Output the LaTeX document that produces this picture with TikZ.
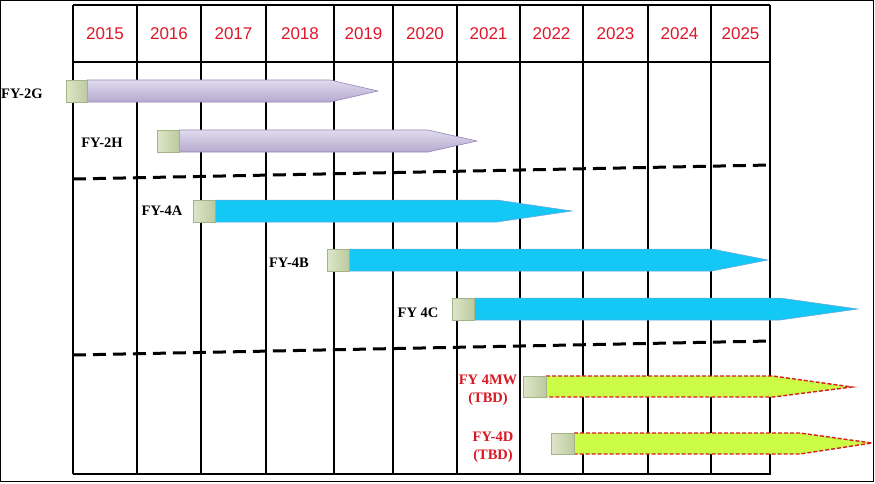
\documentclass[tikz,border=0pt]{standalone}
\usepackage{fontspec}
\setmainfont{Liberation Serif}
\newfontfamily\yearfont{Liberation Sans}
\definecolor{yearred}{RGB}{222,22,40}
\definecolor{lblred}{RGB}{215,25,35}
\definecolor{purpT}{RGB}{224,219,238}
\definecolor{purpB}{RGB}{182,170,208}
\definecolor{purpD}{RGB}{150,135,182}
\definecolor{cyanbar}{RGB}{20,200,245}
\definecolor{cyanD}{RGB}{110,160,215}
\definecolor{limebar}{RGB}{204,252,70}
\definecolor{sqL}{RGB}{222,230,200}
\definecolor{sqR}{RGB}{188,202,160}
\definecolor{sqD}{RGB}{165,178,135}
\tikzset{
  year/.style={font=\yearfont\fontsize{17}{17}\selectfont, text=yearred, inner sep=0pt},
  sat/.style={font=\bfseries\fontsize{14.5}{18}\selectfont, inner sep=0pt, align=center},
  satred/.style={sat, text=lblred},
  thingrid/.style={line width=1.1pt, black},
  thickgrid/.style={line width=2pt, black},
  epoch/.style={line width=3pt, dash pattern=on 13pt off 7pt, black},
  purplebar/.style={top color=purpT, bottom color=purpB, draw=purpD, line width=0.6pt},
  cyanbarst/.style={fill=cyanbar, draw=cyanD, line width=0.5pt},
  limebarst/.style={fill=limebar, draw=lblred, line width=1.4pt, dash pattern=on 4pt off 2pt},
  sq/.style={left color=sqL, right color=sqR, draw=sqD, line width=0.5pt}
}
\newcommand{\tlbar}[8]{%
  \path[#1] (#3,#4) -- (#6,#4) -- (#7,#8) -- (#6,#5) -- (#3,#5) -- cycle;
  \path[sq] (#2,#4) rectangle (#3,#5);
}
\begin{document}
\begin{tikzpicture}[x=1pt,y=-1pt]
\useasboundingbox (0,0) rectangle (875,483);
\draw[line width=1pt] (0.5,0.5) rectangle (873.5,481.5);
% grid
\draw[thingrid] (73,5) -- (770,5);
\draw[thingrid] (73,62) -- (770,62);
\foreach \x in {73,137,266,334,393,457,583,648,770}
  \draw[thingrid] (\x,5) -- (\x,474);
\foreach \x in {201,520,711}
  \draw[thickgrid] (\x,5) -- (\x,474);
\draw[line width=2.4pt] (72.5,474) -- (770.5,474);
% years
\foreach \yr/\cx in {2015/105,2016/169,2017/233.5,2018/300,2019/363.5,2020/425,2021/488.5,2022/551.5,2023/615.5,2024/679.5,2025/740.5}
  \node[year] (y\yr) at (\cx,34) {\yr};
% epoch separators
\draw[epoch] (73,179) -- (770,165);
\draw[epoch] (73,355) -- (770,341);
% bars
\tlbar{purplebar}{66}{87}{80}{102}{330}{378}{91}
\tlbar{purplebar}{157}{179}{130}{152}{428}{477}{141}
\tlbar{cyanbarst}{193}{215}{200}{222}{497}{572}{211}
\tlbar{cyanbarst}{327}{349}{249}{271}{712}{768}{260}
\tlbar{cyanbarst}{452}{474}{298}{320}{780}{858}{309}
\tlbar{limebarst}{523}{546}{376}{397}{773}{852}{387}
\tlbar{limebarst}{551}{574}{433}{454}{800}{872}{443}
% labels
\node[sat, anchor=west] (fy2g) at (1,94) {FY-2G};
\node[sat] (fy2h) at (102,143) {FY-2H};
\node[sat] (fy4a) at (162,211) {FY-4A};
\node[sat] (fy4b) at (289,263) {FY-4B};
\node[sat] (fy4c) at (418,313) {FY 4C};
\node[satred] (fy4mw) at (488,390) {FY 4MW\\(TBD)};
\node[satred] (fy4d) at (493,447) {FY-4D\\(TBD)};
\end{tikzpicture}
\end{document}
